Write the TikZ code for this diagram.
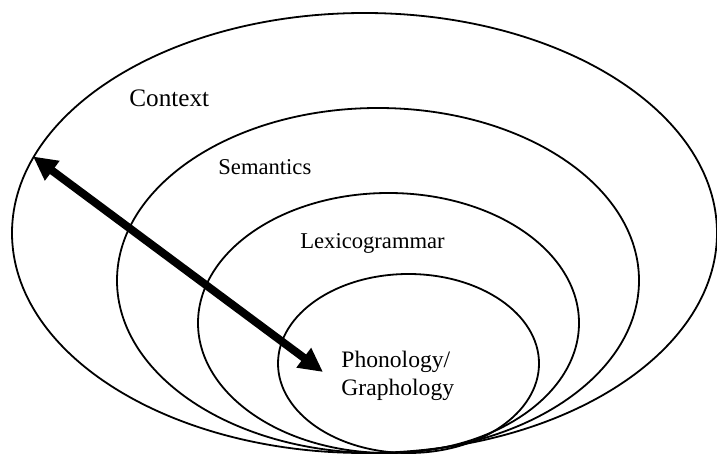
\documentclass[tikz,border=0pt]{standalone}
\usepackage{fontspec}
\setmainfont{Liberation Serif}
\usetikzlibrary{arrows.meta,positioning,shapes.geometric}

\begin{document}
\begin{tikzpicture}[x=.5pt,y=-.5pt]
\useasboundingbox (0,0) rectangle (717,454);
\foreach \n/\cx/\cy/\w/\h in {context/364.5/233/352.5/220,semantics/378/280.5/261/172.5,lexgram/388.5/323/190.5/130,phono/408.5/363.5/130.5/89.5}
  \node[draw,line width=.9pt,ellipse,inner sep=0pt,minimum width=\w pt,minimum height=\h pt] (\n) at (\cx,\cy) {};
\node[anchor=base west,inner sep=0pt,font=\fontsize{12.6}{15}\selectfont] (contextlbl) at (129,107) {Context};
\node[anchor=base west,inner sep=0pt,font=\fontsize{11.3}{14}\selectfont] (semlbl) at (218,175) {Semantics};
\node[anchor=base west,inner sep=0pt,font=\fontsize{11.3}{14}\selectfont] (lexlbl) at (300,249) {Lexicogrammar};
% base anchor sits on the last line
\node[anchor=base west,inner sep=0pt,align=left,font=\fontsize{11.8}{14}\selectfont] (phonolbl) at (341,395) {Phonology/\\Graphology};
\coordinate (tip) at (323,372);
\draw[{Triangle[length=12pt,width=11.5pt]}-{Triangle[length=12pt,width=11.5pt]},line width=4pt] (context.167) -- (tip);
\end{tikzpicture}
\end{document}
